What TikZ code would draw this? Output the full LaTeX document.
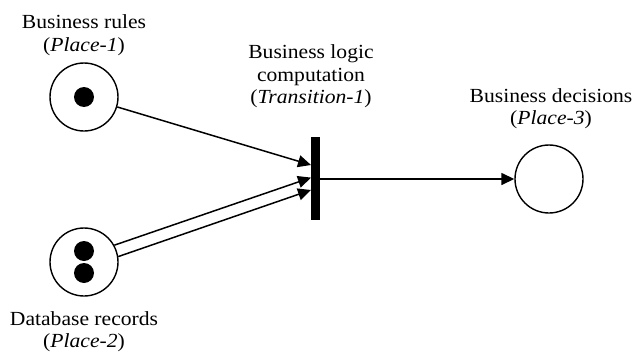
\documentclass[tikz,border=0pt]{standalone}
\usepackage{fontspec}
\setmainfont[FakeStretch=1.08]{Liberation Serif}
\usetikzlibrary{arrows.meta}
\begin{document}
\begin{tikzpicture}[x=1pt,y=-1pt,
  place/.style={circle,draw,line width=1.4pt,minimum size=68pt,inner sep=0pt},
  token/.style={circle,fill=black,minimum size=20pt,inner sep=0pt},
  bar/.style={rectangle,fill=black,minimum width=9pt,minimum height=83pt,inner sep=0pt},
  lbl/.style={align=center,anchor=north,inner sep=0pt,font=\fontsize{20}{22.5}\selectfont},
  arc/.style={line width=1.5pt,-{Triangle[length=13pt,width=12pt]}}]
\useasboundingbox (0,0) rectangle (632,356);
\node[place] (p1) at (84,97) {};
\node[token] (k1) at (84,97) {};
\node[place] (p2) at (84,262) {};
\node[token] (k2) at (84,251) {};
\node[token] (k3) at (84,273) {};
\node[place] (p3) at (549,179) {};
\node[bar] (t) at (315.5,178.5) {};
\coordinate (ta) at (311,165);
\coordinate (tb) at (311,177.6);
\coordinate (tc) at (311,190);
\node[lbl] (l1) at (84,14.5) {Business rules\\(\textit{Place-1})};
\node[lbl] (l2) at (84,311) {Database records\\(\textit{Place-2})};
\node[lbl] (lt) at (311,44.5) {Business logic\\computation\\(\textit{Transition-1})};
\node[lbl] (l3) at (551,88) {Business decisions\\(\textit{Place-3})};
\draw[arc] (p1) -- (ta);
\draw[arc] (p2.29) -- (tb);
\draw[arc] (p2.9) -- (tc);
\draw[arc] (t.east |- p3) -- (p3);
\end{tikzpicture}
\end{document}
